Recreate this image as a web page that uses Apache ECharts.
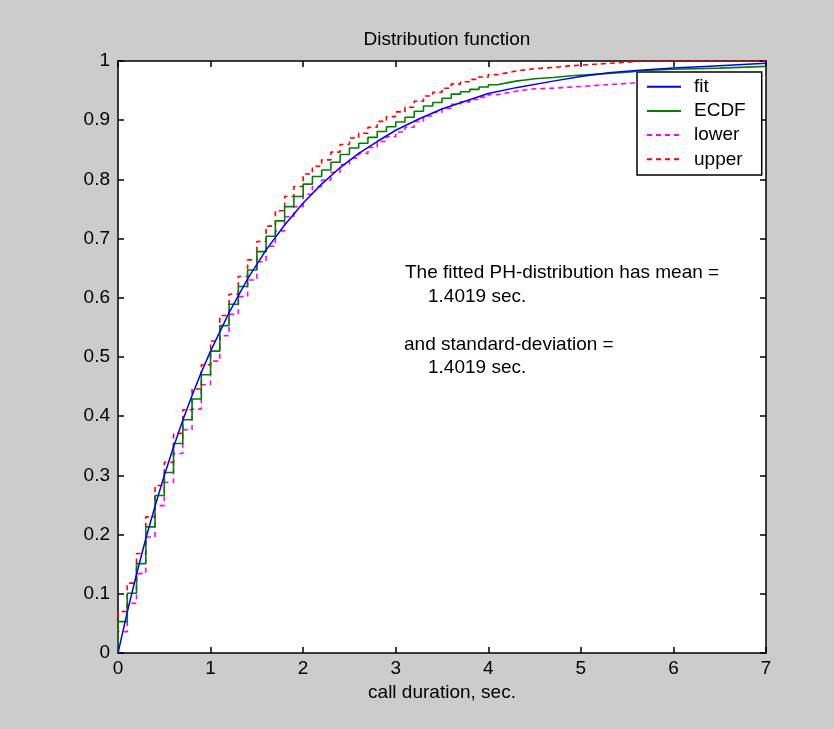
<!DOCTYPE html>
<html>
<head>
<meta charset="utf-8">
<script src="https://cdn.jsdelivr.net/npm/echarts@6/dist/echarts.min.js"></script>
<style>
html,body{margin:0;padding:0;background:#cccccc;}
#c{width:834px;height:729px;}
</style>
</head>
<body>
<div id="c"></div>
<script>
// ---- data ----
const titleText = 'Distribution function';
const xLabelText = 'call duration, sec.';
const xTickLabels = ['0','1','2','3','4','5','6','7'];
const yTickLabels = ['0','0.1','0.2','0.3','0.4','0.5','0.6','0.7','0.8','0.9','1'];

// ECDF step positions and values (value holds from x until next x)
const ecdfX = [0.0,0.1,0.2,0.3,0.4,0.5,0.6,0.7,0.8,0.9,
               1.0,1.1,1.2,1.3,1.4,1.5,1.6,1.7,1.8,1.9,
               2.0,2.1,2.2,2.3,2.4,2.5,2.6,2.7,2.8,2.9,
               3.0,3.1,3.2,3.3,3.4,3.5,3.6,3.7,3.8,3.9,
               4.0,4.1,4.2,4.3,4.4,4.5,4.7,4.9,5.1,5.3,
               5.5,5.7,6.0,6.5,7.0];
const ecdfY = [0.053,0.101,0.151,0.213,0.266,0.305,0.354,0.394,0.429,0.470,
               0.510,0.553,0.589,0.619,0.647,0.678,0.704,0.730,0.754,0.771,
               0.792,0.805,0.816,0.829,0.842,0.853,0.861,0.871,0.881,0.889,
               0.897,0.905,0.915,0.924,0.930,0.937,0.944,0.948,0.952,0.956,
               0.960,0.963,0.966,0.968,0.970,0.972,0.975,0.977,0.979,0.981,
               0.984,0.986,0.988,0.991,0.991];
const lowerY = [0.036,0.084,0.134,0.196,0.249,0.288,0.337,0.377,0.412,0.453,
                0.493,0.536,0.572,0.602,0.630,0.661,0.687,0.713,0.737,0.754,
                0.775,0.788,0.799,0.812,0.825,0.836,0.844,0.854,0.864,0.872,
                0.880,0.888,0.898,0.907,0.913,0.920,0.927,0.931,0.935,0.939,
                0.943,0.946,0.949,0.951,0.953,0.954,0.956,0.958,0.960,0.962,
                0.965,0.967,0.969,0.972,0.972];
const upperY = [0.070,0.118,0.168,0.230,0.283,0.322,0.371,0.411,0.446,0.487,
                0.527,0.570,0.606,0.636,0.664,0.695,0.721,0.747,0.771,0.788,
                0.809,0.822,0.833,0.846,0.859,0.870,0.878,0.888,0.898,0.906,
                0.914,0.922,0.932,0.941,0.947,0.954,0.961,0.965,0.969,0.973,
                0.977,0.980,0.983,0.985,0.987,0.989,0.992,0.994,0.996,0.998,
                1.000,1.000,1.000,1.000,1.000];

// fitted PH-distribution CDF
const fitX = [0,0.1,0.2,0.3,0.4,0.5,0.6,0.7,0.8,0.9,1.0,1.2,1.4,1.6,1.8,2.0,
              2.2,2.4,2.6,2.8,3.0,3.25,3.5,3.75,4.0,4.3,4.7,5.0,5.3,5.6,6.0,6.5,7.0];
const fitY = [0,0.069,0.133,0.193,0.248,0.300,0.348,0.393,0.435,0.474,0.510,0.575,
              0.632,0.681,0.723,0.760,0.792,0.820,0.844,0.864,0.883,0.902,0.919,
              0.932,0.945,0.955,0.966,0.974,0.980,0.984,0.988,0.992,0.996];

const annotLines = ['The fitted PH-distribution has mean =', '1.4019 sec.',
                    'and standard-deviation =', '1.4019 sec.'];

// ---- build ----
const FONT = '"Liberation Sans", Arial, sans-serif';
const FS = 19;
function stepData(ys){
  const d = [[0,0]];
  for(let i=0;i<ecdfX.length;i++) d.push([ecdfX[i], ys[i]]);
  return d;
}
const fitData = fitX.map((x,i)=>[x, fitY[i]]);

const chart = echarts.init(document.getElementById('c'), null, {renderer:'canvas'});
const axisCommon = {
  axisLine:{show:true, onZero:false, lineStyle:{color:'#000', width:1.5}},
  axisTick:{show:true, inside:true, length:6, lineStyle:{color:'#000', width:1.5}},
  splitLine:{show:false}
};
chart.setOption({
  backgroundColor:'#cccccc',
  animation:false,
  title:{text:titleText, left:442, top:25, textAlign:'center',
    textStyle:{fontFamily:FONT, fontSize:FS, fontWeight:'normal', color:'#000'}},
  grid:{left:118, top:61, right:68, bottom:76, show:true, backgroundColor:'#ffffff', borderWidth:0},
  legend:{
    orient:'vertical', left:637, top:72,
    data:['fit','ECDF','lower','upper'],
    itemWidth:34, itemHeight:10, itemGap:4.2,
    padding:[4.7,16,5.7,9],
    itemStyle:{color:'rgba(0,0,0,0)', borderColor:'rgba(0,0,0,0)', borderWidth:0, opacity:0},
    backgroundColor:'#ffffff', borderColor:'#000', borderWidth:1.5, borderRadius:0,
    textStyle:{fontFamily:FONT, fontSize:FS, color:'#000', lineHeight:20, padding:[0,0,0,8]}
  },
  xAxis:[
    Object.assign({type:'value', min:0, max:7, interval:1, position:'bottom',
      name:xLabelText, nameLocation:'middle', nameGap:25,
      nameTextStyle:{fontFamily:FONT, fontSize:FS, color:'#000'},
      axisLabel:{fontFamily:FONT, fontSize:FS, color:'#000', margin:6,
        formatter:(v)=>xTickLabels[Math.round(v)]}}, axisCommon),
    Object.assign({type:'value', min:0, max:7, interval:1, position:'top',
      axisLabel:{show:false}}, axisCommon)
  ],
  yAxis:[
    Object.assign({type:'value', min:0, max:1, interval:0.1, position:'left',
      axisLabel:{fontFamily:FONT, fontSize:FS, color:'#000', margin:8,
        formatter:(v)=>yTickLabels[Math.round(v*10)]}}, axisCommon),
    Object.assign({type:'value', min:0, max:1, interval:0.1, position:'right',
      axisLabel:{show:false}}, axisCommon)
  ],
  series:[
    {name:'fit', type:'line', data:fitData, showSymbol:false, symbol:'none',
      lineStyle:{color:'#0000ff', width:1.5}, itemStyle:{color:'#0000ff'}, z:5},
    {name:'ECDF', type:'line', data:stepData(ecdfY), step:'end', showSymbol:false, symbol:'none',
      lineStyle:{color:'#008000', width:1.6}, itemStyle:{color:'#008000'}, z:4},
    {name:'lower', type:'line', data:stepData(lowerY), step:'end', showSymbol:false, symbol:'none',
      lineStyle:{color:'#ff00ff', width:1.6, type:[5,4]}, itemStyle:{color:'#ff00ff'}, z:3},
    {name:'upper', type:'line', data:stepData(upperY), step:'end', showSymbol:false, symbol:'none',
      lineStyle:{color:'#ff0000', width:1.6, type:[5,4]}, itemStyle:{color:'#ff0000'}, z:3}
  ],
  graphic:[
    {type:'text', left:405, top:263, style:{text:annotLines[0], font:FS+'px '+FONT, fill:'#000'}},
    {type:'text', left:428, top:287, style:{text:annotLines[1], font:FS+'px '+FONT, fill:'#000'}},
    {type:'text', left:404, top:335, style:{text:annotLines[2], font:FS+'px '+FONT, fill:'#000'}},
    {type:'text', left:428, top:358, style:{text:annotLines[3], font:FS+'px '+FONT, fill:'#000'}}
  ]
});
</script>
</body>
</html>
